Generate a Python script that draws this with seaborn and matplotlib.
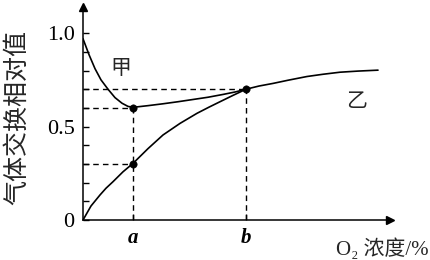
import matplotlib
matplotlib.use("Agg")
import matplotlib.pyplot as plt
import seaborn as sns
import pandas as pd
import numpy as np

# ---- data ----
a_val = 5.0
b_val = 16.3
jia_x = [0.0, 0.6, 1.2, 1.8, 2.5, 3.2, 3.9, 4.5, 5.0, 6.5, 8.0, 9.5, 11.0, 12.5, 14.0, 15.2, 16.3]
jia_y = [0.97, 0.885, 0.81, 0.75, 0.70, 0.655, 0.625, 0.608, 0.603, 0.612, 0.622, 0.633, 0.645, 0.657, 0.672, 0.685, 0.700]
yi_x = [0.0, 0.8, 1.7, 2.3, 3.0, 4.0, 5.0, 6.5, 8.0, 9.7, 11.4, 12.6, 13.7, 15.0, 16.3,
        17.6, 19.0, 20.5, 22.4, 24.0, 25.7, 27.5, 29.5]
yi_y = [0.0, 0.075, 0.134, 0.170, 0.205, 0.258, 0.303, 0.382, 0.455, 0.517, 0.571, 0.604, 0.633, 0.667, 0.700,
        0.717, 0.731, 0.748, 0.768, 0.780, 0.791, 0.797, 0.802]
point_x = [a_val, a_val, b_val]
point_y = [0.6, 0.3, 0.7]
y_major = [0, 0.5, 1.0]
y_major_labels = ["0", "0.5", "1.0"]
y_minor = [0.1, 0.2, 0.3, 0.4, 0.6, 0.7, 0.8, 0.9]
x_tick_labels = ["a", "b"]

sns.set_style("ticks")
plt.rcParams['font.family'] = ['Noto Sans CJK SC', 'DejaVu Sans']

fig = plt.figure(figsize=(4.3, 2.6), dpi=100)
ax = fig.add_axes([83/430, 40/260, 307/430, 213/260])

jia_df = pd.DataFrame({"x": jia_x, "y": jia_y})
yi_df = pd.DataFrame({"x": yi_x, "y": yi_y})
sns.lineplot(data=jia_df, x="x", y="y", ax=ax, color="black", lw=1.2, sort=False, estimator=None)
sns.lineplot(data=yi_df, x="x", y="y", ax=ax, color="black", lw=1.2, sort=False, estimator=None)

# dashed guide lines
dash = dict(color="black", lw=1.0, linestyle=(0, (4, 3)))
ax.plot([0, b_val], [0.7, 0.7], **dash)
ax.plot([0, a_val], [0.6, 0.6], **dash)
ax.plot([0, a_val], [0.3, 0.3], **dash)
ax.plot([a_val, a_val], [0, 0.6], **dash)
ax.plot([b_val, b_val], [0, 0.7], **dash)

sns.scatterplot(x=point_x, y=point_y, ax=ax, color="black", s=28, edgecolor="black", zorder=5)

ax.set_xlim(0, 30.7)
ax.set_ylim(0, 1.14)
for s in ["top", "right"]:
    ax.spines[s].set_visible(False)
for s in ["left", "bottom"]:
    ax.spines[s].set_linewidth(1.1)
    ax.spines[s].set_color("black")

# arrows
ax.plot(1, 0, ">", color="black", ms=6, transform=ax.get_yaxis_transform(), clip_on=False)
ax.plot(0, 1, "^", color="black", ms=6, transform=ax.get_xaxis_transform(), clip_on=False)

ax.set_yticks(y_major)
ax.set_yticklabels(y_major_labels, family="Liberation Serif", fontsize=16)
ax.set_yticks(y_minor, minor=True)
ax.tick_params(axis="y", which="both", direction="in", length=4, width=1, pad=6, colors="black")
ax.set_xticks([a_val, b_val])
ax.set_xticklabels(x_tick_labels, family="Liberation Serif", fontsize=15, fontweight="bold", style="italic")
ax.tick_params(axis="x", direction="in", length=4, width=1, pad=6, colors="black")
ax.set_xlabel("")
ax.set_ylabel("")

ax.text(3.8, 0.813, "甲", fontsize=15, ha="center", va="center")
ax.text(27.4, 0.636, "乙", fontsize=15, ha="center", va="center")

fig.text(17/430, 1 - 118/260, "气体交换相对值", rotation=90, fontsize=18, ha="center", va="center")
fig.text(429/430, 1 - 249/260, "O₂ 浓度/%", fontsize=15, ha="right", va="center",
         family=["Liberation Serif", "Noto Sans CJK SC", "DejaVu Sans"])

fig.savefig("out.png", dpi=100)
